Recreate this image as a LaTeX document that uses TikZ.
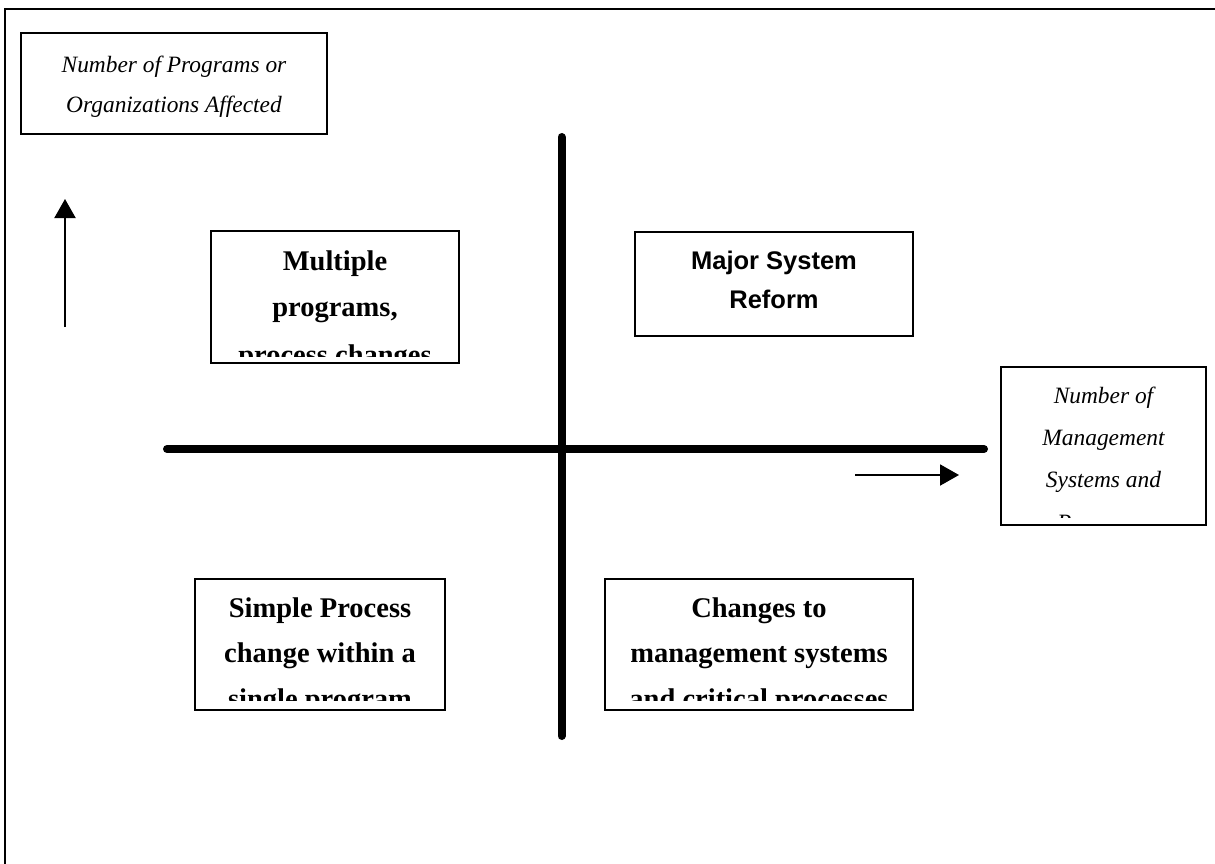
\documentclass[tikz,border=0pt]{standalone}
\usepackage{fontspec}
\setmainfont{Liberation Serif}
\newfontfamily\sansfam{Liberation Sans}
\usetikzlibrary{arrows.meta}
\tikzset{
  boxframe/.style={draw, line width=1.6pt, fill=none, inner sep=0pt},
  axislab/.style={font=\fontsize{23.4}{28}\selectfont\itshape, inner sep=0pt, anchor=base},
  quadlab/.style={font=\fontsize{28.5}{34}\selectfont\bfseries, inner sep=0pt, anchor=base},
  quadsans/.style={font=\sansfam\fontsize{25.5}{30}\selectfont\bfseries, inner sep=0pt, anchor=base},
  axisline/.style={line width=8pt, line cap=round},
  dirarrow/.style={line width=2pt, -{Triangle[width=21pt,length=19pt]}},
}
\begin{document}
\begin{tikzpicture}[x=1pt,y=-1pt]
\useasboundingbox (0,0) rectangle (1215,863);
\clip (0,0) rectangle (1215,863);
% outer frame
\draw[line width=2pt] (5,900) -- (5,9) -- (1250,9);

% boxes
\node[boxframe, minimum width=306pt, minimum height=101pt] (tl) at (174,83.5) {};
\node[boxframe, minimum width=248pt, minimum height=132pt] (mp) at (335,297) {};
\node[boxframe, minimum width=278pt, minimum height=104pt] (ms) at (774,284) {};
\node[boxframe, minimum width=205pt, minimum height=158pt] (rb) at (1103.5,446) {};
\node[boxframe, minimum width=250pt, minimum height=131pt] (sp) at (320,644.5) {};
\node[boxframe, minimum width=308pt, minimum height=131pt] (cm) at (759,644.5) {};

% texts
\node[axislab] (tl1) at (174,72) {Number of Programs or};
\node[axislab] (tl2) at (174,112) {Organizations Affected};

\begin{scope}
\clip (211,231) rectangle (459,356);
\node[quadlab] (mp1) at (335,270) {Multiple};
\node[quadlab] (mp2) at (335,316) {programs,};
\node[quadlab] (mp3) at (335,364) {process changes};
\end{scope}

\node[quadsans] (ms1) at (774,269) {Major System};
\node[quadsans] (ms2) at (774,308) {Reform};

\begin{scope}
\clip (1001,367) rectangle (1206,517);
\node[axislab] (rb1) at (1103.5,403) {Number of};
\node[axislab] (rb2) at (1103.5,445) {Management};
\node[axislab] (rb3) at (1103.5,487) {Systems and};
\node[axislab] (rb4) at (1103.5,530) {Processes};
\end{scope}

\begin{scope}
\clip (195,579) rectangle (445,700);
\node[quadlab] (sp1) at (320,617) {Simple Process};
\node[quadlab] (sp2) at (320,662) {change within a};
\node[quadlab] (sp3) at (320,708) {single program};
\end{scope}

\begin{scope}
\clip (605,579) rectangle (913,700);
\node[quadlab] (cm1) at (759,617) {Changes to};
\node[quadlab] (cm2) at (759,662) {management systems};
\node[quadlab] (cm3) at (759,708) {and critical processes};
\end{scope}

% axes
\coordinate (hL) at (167,449);
\coordinate (hR) at (984,449);
\coordinate (vT) at (561.5,137);
\coordinate (vB) at (561.5,736);
\draw[axisline] (hL) -- (hR);
\draw[axisline] (vT) -- (vB);

% direction arrows
\coordinate (ua0) at (65,327);
\coordinate (ua1) at (65,199);
\draw[dirarrow] (ua0) -- (ua1);
\coordinate (ra0) at (855,475);
\coordinate (ra1) at (959,475);
\draw[dirarrow] (ra0) -- (ra1);
\end{tikzpicture}
\end{document}
